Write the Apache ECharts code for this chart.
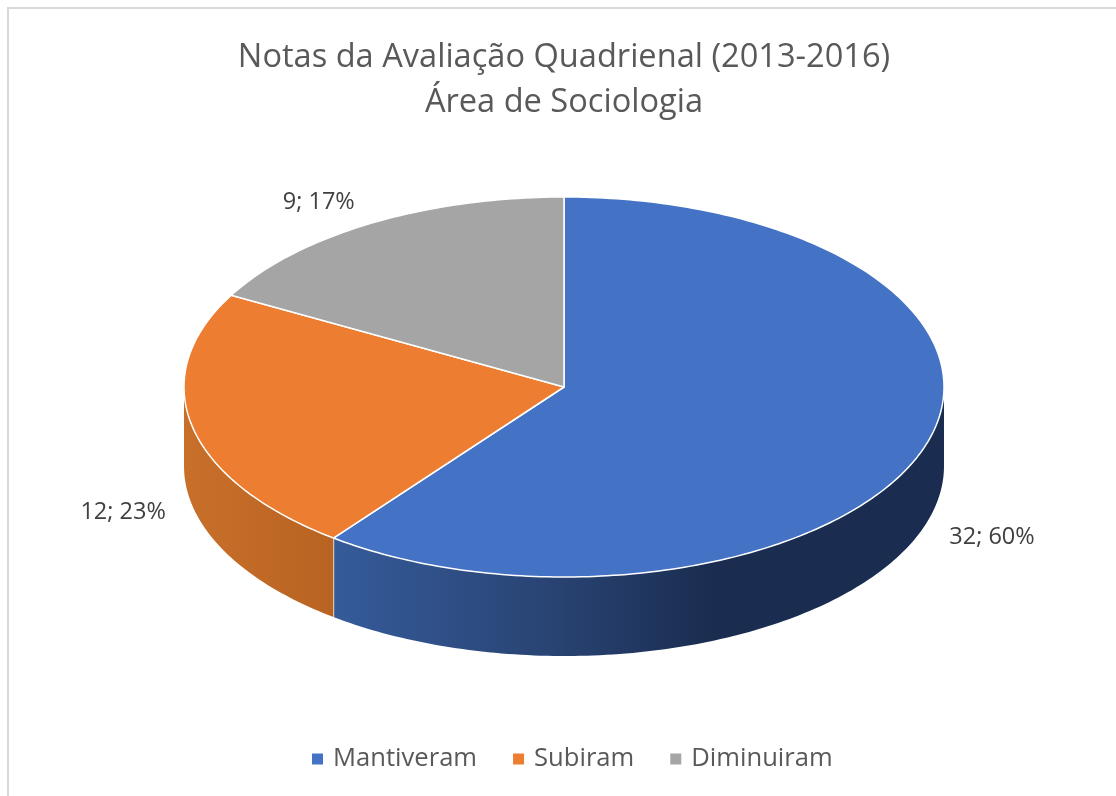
<!DOCTYPE html>
<html>
<head>
<meta charset="utf-8">
<style>
html,body{margin:0;padding:0;background:#fff;}
#main{width:1116px;height:796px;}
</style>
<script src="https://cdn.jsdelivr.net/npm/echarts@6/dist/echarts.min.js"></script>
</head>
<body>
<div id="main"></div>
<script>
/*---------数据--------*/
var categories = ['Mantiveram', 'Subiram', 'Diminuiram'];
var values = [32, 12, 9];
var percents = [60, 23, 17]; // as printed on the chart
var titleLines = ['Notas da Avaliação Quadrienal (2013-2016)', 'Área de Sociologia'];

/*---------样式--------*/
var colors = ['#4472C4', '#ED7D31', '#A5A5A5'];
var sideStops = [
	[[0, '#355B9A'], [0.35, '#294474'], [0.62, '#1A2D50'], [1, '#1A2C50']],
	[[0, '#C8702A'], [1, '#B96322']],
	null
];
var labelOffset = [[68, 89], [-69, 86], [-52, -21]]; // from the rim at the slice's mid angle

var cx = 564, cy = 387, rx = 380, ry = 190, depth = 79;
var total = values.reduce(function(a, b) { return a + b; }, 0);

function rim(deg, dy) {
	var a = deg * Math.PI / 180;
	return [cx + rx * Math.sin(a), cy - ry * Math.cos(a) + (dy || 0)];
}
function arcPoints(from, to, dy) {
	var pts = [];
	var n = Math.max(2, Math.ceil(Math.abs(to - from)));
	for (var i = 0; i <= n; i++) {
		pts.push(rim(from + (to - from) * i / n, dy));
	}
	return pts;
}
function startAngle(idx) {
	var sum = 0;
	for (var i = 0; i < idx; i++) sum += values[i];
	return sum / total * 360;
}
function gradient(stops) {
	return {
		type: 'linear', x: 0, y: 0, x2: 1, y2: 0,
		colorStops: stops.map(function(s) { return {offset: s[0], color: s[1]}; })
	};
}

function renderSlice(idx) {
	return function(params, api) {
		var from = startAngle(idx);
		var to = from + api.value(0) / total * 360;
		var children = [];
		// 侧面，只画朝前的部分 90°~270°
		var s0 = Math.max(from, 90), s1 = Math.min(to, 270);
		if (s1 > s0 && sideStops[idx]) {
			children.push({
				type: 'polygon',
				shape: {points: arcPoints(s0, s1, 0).concat(arcPoints(s1, s0, depth))},
				style: {fill: gradient(sideStops[idx])}
			});
			if (s1 < 270) {
				children.push({
					type: 'line',
					shape: {x1: rim(s1)[0], y1: rim(s1)[1], x2: rim(s1)[0], y2: rim(s1)[1] + depth},
					style: {stroke: '#fff', lineWidth: 1.5}
				});
			}
		}
		// 顶面
		children.push({
			type: 'polygon',
			shape: {points: [[cx, cy]].concat(arcPoints(from, to, 0))},
			style: {fill: colors[idx], stroke: '#fff', lineWidth: 1.5, lineJoin: 'round'}
		});
		// 标签
		var mid = rim((from + to) / 2);
		children.push({
			type: 'text',
			style: {
				x: mid[0] + labelOffset[idx][0],
				y: mid[1] + labelOffset[idx][1],
				text: api.value(0) + '; ' + percents[idx] + '%',
				fill: '#404040',
				font: '23.5px "Open Sans"',
				align: 'center',
				verticalAlign: 'middle'
			}
		});
		return {type: 'group', children: children};
	};
}

var series = categories.map(function(name, i) {
	return {
		name: name,
		type: 'custom',
		coordinateSystem: 'none',
		silent: true,
		animation: false,
		itemStyle: {color: colors[i]},
		renderItem: renderSlice(i),
		data: [[values[i]]]
	};
});

echarts.init(document.getElementById('main')).setOption({
	backgroundColor: '#fff',
	animation: false,
	color: colors,
	title: {
		text: titleLines.join('\n'),
		left: 559,
		top: 30,
		textAlign: 'center',
		textStyle: {
			color: '#595959',
			fontFamily: 'Open Sans',
			fontWeight: 'normal',
			fontSize: 32.6,
			lineHeight: 45
		}
	},
	legend: {
		data: categories,
		left: 307,
		top: 741,
		icon: 'rect',
		itemWidth: 11,
		itemHeight: 11,
		itemGap: 36,
		textStyle: {color: '#595959', fontFamily: 'Open Sans', fontSize: 25.6, padding: [0, 0, 0, 5]}
	},
	graphic: [{
		type: 'rect',
		silent: true,
		z: -1,
		shape: {x: 8, y: 8, width: 1200, height: 1200},
		style: {fill: 'none', stroke: '#D9D9D9', lineWidth: 2}
	}],
	series: series
});
</script>
</body>
</html>
